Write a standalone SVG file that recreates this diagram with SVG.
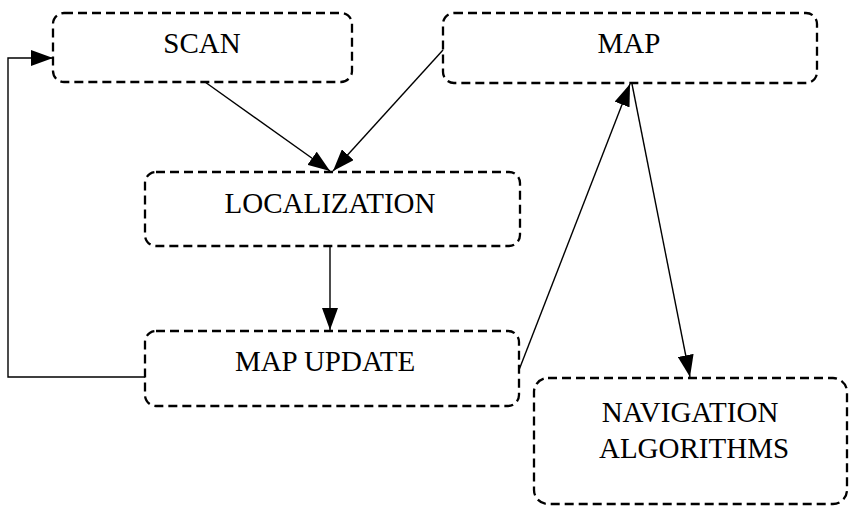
<svg xmlns="http://www.w3.org/2000/svg" width="849" height="508" viewBox="0 0 849 508">
<style>
.box{fill:none;stroke:#000;stroke-width:2.3;stroke-dasharray:9,5}
.lbl{font-family:"Liberation Serif","Times New Roman",serif;font-size:29px;fill:#000;text-anchor:middle}
.con{fill:none;stroke:#000;stroke-width:1.4}
</style>
<defs>
<marker id="ah" markerUnits="userSpaceOnUse" markerWidth="22" markerHeight="16" refX="22" refY="8" orient="auto">
<path d="M0,0 L22,8 L0,16 z" fill="#000"/>
</marker>
</defs>
<rect width="849" height="508" fill="#fff"/>
<g id="scan"><rect class="box" x="53" y="13" width="299" height="69" rx="11"/><text class="lbl" x="202" y="53">SCAN</text></g>
<g id="map"><rect class="box" x="443" y="13" width="374" height="70" rx="11"/><text class="lbl" x="629" y="53">MAP</text></g>
<g id="localization"><rect class="box" x="145" y="172" width="375" height="74" rx="11"/><text class="lbl" x="330" y="213">LOCALIZATION</text></g>
<g id="mapupdate"><rect class="box" x="145" y="331" width="374" height="75" rx="11"/><text class="lbl" x="325" y="371">MAP UPDATE</text></g>
<g id="nav"><rect class="box" x="534" y="378" width="313" height="126" rx="14"/><text class="lbl" x="690" y="422">NAVIGATION</text><text class="lbl" x="694" y="458">ALGORITHMS</text></g>
<g id="connectors">
<path class="con" d="M205,82 L330,171" marker-end="url(#ah)"/>
<path class="con" d="M443,50 L333,171" marker-end="url(#ah)"/>
<path class="con" d="M330,246 L330,330" marker-end="url(#ah)"/>
<path class="con" d="M145,377 L8,377 L8,58 L53,58" marker-end="url(#ah)"/>
<path class="con" d="M519,370 L630,84" marker-end="url(#ah)"/>
<path class="con" d="M632,84 L690,377" marker-end="url(#ah)"/>
</g>
</svg>
